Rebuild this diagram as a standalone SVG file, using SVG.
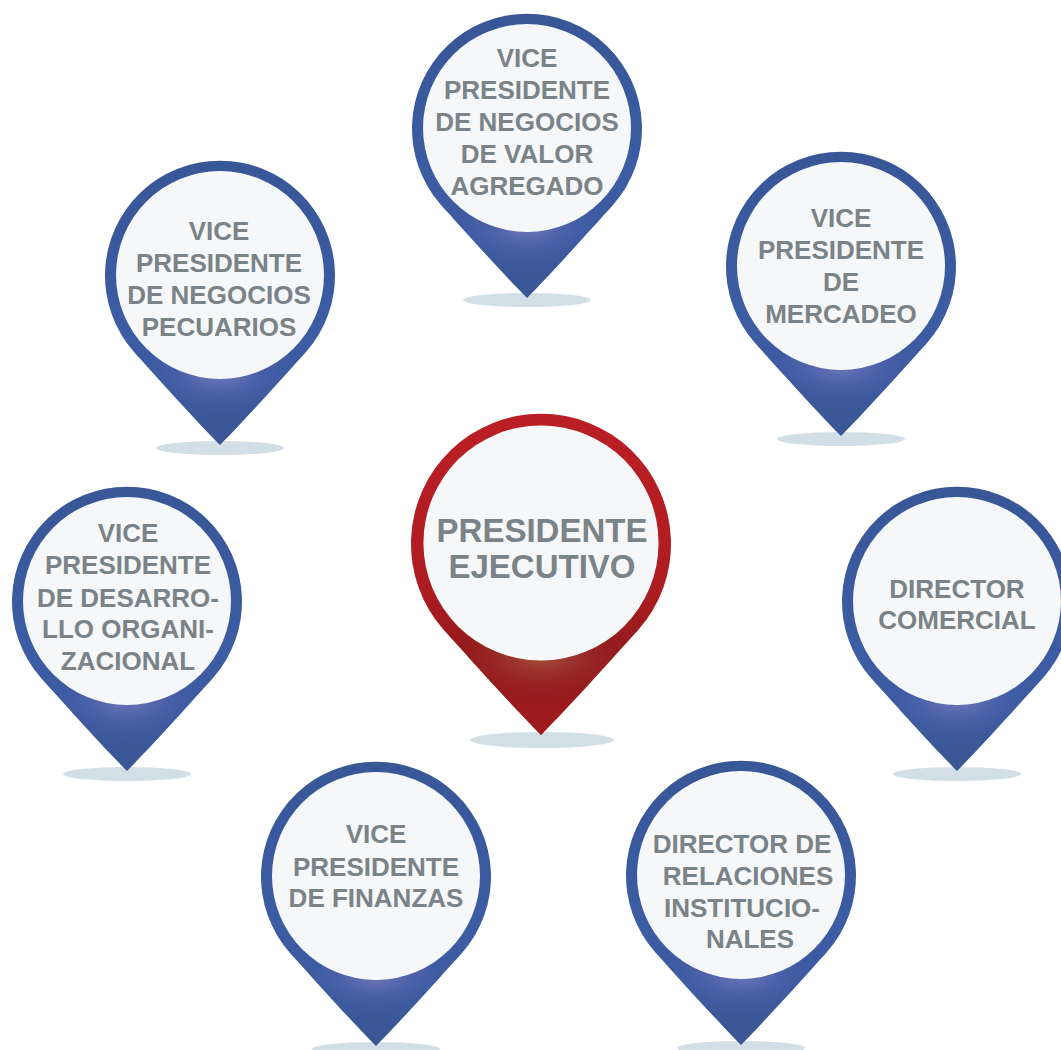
<svg xmlns="http://www.w3.org/2000/svg" xmlns:xlink="http://www.w3.org/1999/xlink" width="1061" height="1050" viewBox="0 0 1061 1050">
<style>
  .lbl { font-family: "Liberation Sans", Arial, Helvetica, sans-serif; font-weight: bold; font-size: 26px; fill: #7a8388; text-anchor: middle; }
  .big { font-size: 33px; }
  .shadow { fill: #d3dfe6; }
  .inner { fill: #f5f7f9; }
</style>
<defs>
  <path id="pinShape" d="M -86 77 A 115 115 0 1 1 86 77 C 66 99 24 146 0 170 C -24 146 -66 99 -86 77 Z"/>
  <clipPath id="pinClip" clipPathUnits="userSpaceOnUse">
    <use xlink:href="#pinShape"/>
  </clipPath>
  <linearGradient id="blueBody" x1="0" y1="-115" x2="0" y2="170" gradientUnits="userSpaceOnUse">
    <stop offset="0" stop-color="#385797"/>
    <stop offset="0.6" stop-color="#3c5ca4"/>
    <stop offset="1" stop-color="#3a5695"/>
  </linearGradient>
  <radialGradient id="blueGlow" cx="0" cy="100" r="85" gradientUnits="userSpaceOnUse" gradientTransform="translate(0 100) scale(1 0.5) translate(0 -100)">
    <stop offset="0" stop-color="#7579bb" stop-opacity="0.95"/>
    <stop offset="0.45" stop-color="#5466b0" stop-opacity="0.6"/>
    <stop offset="1" stop-color="#3c5ca4" stop-opacity="0"/>
  </radialGradient>
  <linearGradient id="redBody" x1="0" y1="-115" x2="0" y2="170" gradientUnits="userSpaceOnUse">
    <stop offset="0" stop-color="#bb1f25"/>
    <stop offset="0.55" stop-color="#ad1c21"/>
    <stop offset="0.75" stop-color="#931a1b"/>
    <stop offset="1" stop-color="#a01b1e"/>
  </linearGradient>
  <radialGradient id="redGlow" cx="0" cy="100" r="85" gradientUnits="userSpaceOnUse" gradientTransform="translate(0 100) scale(1 0.5) translate(0 -100)">
    <stop offset="0" stop-color="#a9533f" stop-opacity="0.95"/>
    <stop offset="0.5" stop-color="#98302a" stop-opacity="0.6"/>
    <stop offset="1" stop-color="#931a1b" stop-opacity="0"/>
  </radialGradient>
  <g id="bluePin">
    <use xlink:href="#pinShape" fill="url(#blueBody)"/>
    <ellipse cx="0" cy="100" rx="85" ry="44" fill="url(#blueGlow)" clip-path="url(#pinClip)"/>
    <circle class="inner" cx="0" cy="0" r="104"/>
  </g>
  <g id="redPin">
    <use xlink:href="#pinShape" fill="url(#redBody)"/>
    <ellipse cx="0" cy="100" rx="85" ry="44" fill="url(#redGlow)" clip-path="url(#pinClip)"/>
    <circle class="inner" cx="0" cy="0" r="104"/>
  </g>
</defs>

<g id="connectors"/>

<g id="vp-valor-agregado">
  <ellipse class="shadow" cx="527" cy="300" rx="64" ry="7"/>
  <use xlink:href="#bluePin" transform="translate(527 128)"/>
  <text class="lbl" x="527" y="66.7">VICE</text>
  <text class="lbl" x="527" y="98.5">PRESIDENTE</text>
  <text class="lbl" x="527" y="130.5">DE NEGOCIOS</text>
  <text class="lbl" x="527" y="162.7">DE VALOR</text>
  <text class="lbl" x="527" y="194.5">AGREGADO</text>
</g>

<g id="vp-pecuarios">
  <ellipse class="shadow" cx="220" cy="448" rx="64" ry="7"/>
  <use xlink:href="#bluePin" transform="translate(220 275)"/>
  <text class="lbl" x="219" y="240">VICE</text>
  <text class="lbl" x="219" y="272">PRESIDENTE</text>
  <text class="lbl" x="219" y="304">DE NEGOCIOS</text>
  <text class="lbl" x="219" y="336">PECUARIOS</text>
</g>

<g id="vp-mercadeo">
  <ellipse class="shadow" cx="841" cy="439" rx="64" ry="7"/>
  <use xlink:href="#bluePin" transform="translate(841 266)"/>
  <text class="lbl" x="841" y="227">VICE</text>
  <text class="lbl" x="841" y="259">PRESIDENTE</text>
  <text class="lbl" x="841" y="291">DE</text>
  <text class="lbl" x="841" y="323">MERCADEO</text>
</g>

<g id="presidente-ejecutivo">
  <ellipse class="shadow" cx="542" cy="740" rx="72" ry="8"/>
  <use xlink:href="#redPin" transform="translate(541 543) scale(1.1304)"/>
  <text class="lbl big" x="542" y="541.7">PRESIDENTE</text>
  <text class="lbl big" x="542" y="578.3">EJECUTIVO</text>
</g>

<g id="vp-desarrollo-organizacional">
  <ellipse class="shadow" cx="127" cy="774" rx="64" ry="7"/>
  <use xlink:href="#bluePin" transform="translate(127 601)"/>
  <text class="lbl" x="128" y="542.3">VICE</text>
  <text class="lbl" x="128" y="574">PRESIDENTE</text>
  <text class="lbl" x="128" y="606.7">DE DESARRO-</text>
  <text class="lbl" x="128" y="638.3">LLO ORGANI-</text>
  <text class="lbl" x="128" y="670">ZACIONAL</text>
</g>

<g id="director-comercial">
  <ellipse class="shadow" cx="957" cy="774" rx="64" ry="7"/>
  <use xlink:href="#bluePin" transform="translate(957 601)"/>
  <text class="lbl" x="957" y="598">DIRECTOR</text>
  <text class="lbl" x="957" y="629">COMERCIAL</text>
</g>

<g id="vp-finanzas">
  <ellipse class="shadow" cx="376" cy="1049" rx="64" ry="7"/>
  <use xlink:href="#bluePin" transform="translate(376 876)"/>
  <text class="lbl" x="376" y="843.3">VICE</text>
  <text class="lbl" x="376" y="876">PRESIDENTE</text>
  <text class="lbl" x="376" y="907.3">DE FINANZAS</text>
</g>

<g id="director-relaciones-institucionales">
  <ellipse class="shadow" cx="741" cy="1048" rx="64" ry="7"/>
  <use xlink:href="#bluePin" transform="translate(741 875)"/>
  <text class="lbl" x="742" y="853.3">DIRECTOR DE</text>
  <text class="lbl" x="748" y="885">RELACIONES</text>
  <text class="lbl" x="742" y="916.7">INSTITUCIO-</text>
  <text class="lbl" x="750" y="948.3">NALES</text>
</g>
</svg>
